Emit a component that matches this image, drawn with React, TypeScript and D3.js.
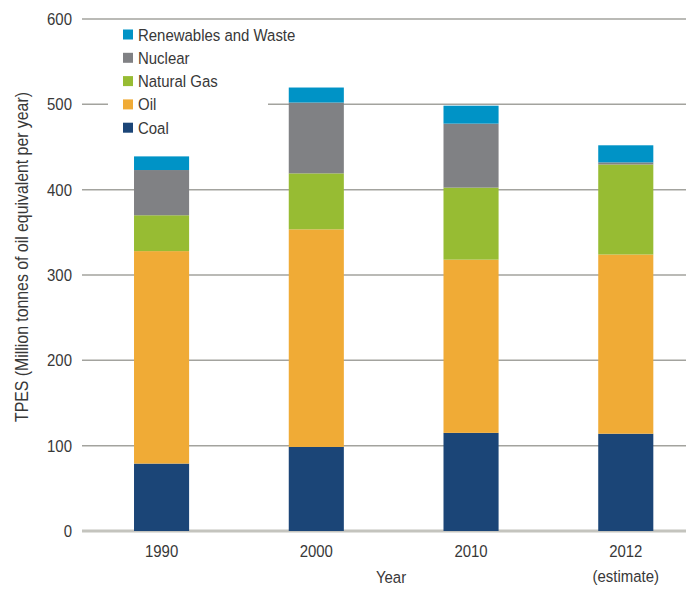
import * as d3 from 'd3';
import React from 'react';

const years = ['1990', '2000', '2010', '2012'];
const yearNotes = ['', '', '', '(estimate)'];
const seriesKeys = ['Coal', 'Oil', 'Natural Gas', 'Nuclear', 'Renewables and Waste'];
const coal = [79, 98.5, 115, 114];
const oil = [249, 255, 203, 210];
const naturalGas = [42, 65.6, 84.4, 105.5];
const nuclear = [53, 83, 75, 2.5];
const renewables = [16, 17.6, 21, 20];
const yTicks = [0, 100, 200, 300, 400, 500, 600];

const colors = ['#1b4577', '#f0ab36', '#97bc33', '#808184', '#0093c6'];
const font = "'Liberation Sans', Arial, sans-serif";

// the source uses a condensed face; squeeze Liberation Sans horizontally
function Label({ x, y, anchor = 'start', size = 17, rotate = 0, children }: any) {
  return (
    <g transform={`translate(${x}, ${y}) rotate(${rotate}) scale(0.88, 1)`}>
      <text textAnchor={anchor} fontSize={size} fill="#383838">
        {children}
      </text>
    </g>
  );
}

export default function App() {
  const width = 692;
  const height = 589;
  const left = 82;
  const right = 686;

  const rows = years.map((year, i) => ({
    year,
    Coal: coal[i],
    Oil: oil[i],
    'Natural Gas': naturalGas[i],
    Nuclear: nuclear[i],
    'Renewables and Waste': renewables[i],
  }));
  const stacked = d3.stack<any>().keys(seriesKeys)(rows);

  const x = d3
    .scaleBand()
    .domain(years)
    .range([85, right])
    .paddingInner(0.644)
    .paddingOuter(0.264)
    .align(0.6);
  const y = d3.scaleLinear().domain([0, 600]).range([531, 19]);
  const color = d3.scaleOrdinal<string>().domain(seriesKeys).range(colors);

  const legendItems = seriesKeys.slice().reverse();
  const mid = (year: string) => (x(year) || 0) + x.bandwidth() / 2;

  return (
    <svg width={width} height={height} style={{ position: 'absolute', left: 0, top: 0 }} fontFamily={font}>
      <rect width={width} height={height} fill="#fff" />
      {yTicks.map((t) => (
        <g key={t}>
          <line
            x1={left}
            x2={right}
            y1={y(t)}
            y2={y(t)}
            stroke={t === 0 ? '#c4c4be' : '#a3a39e'}
            strokeWidth={t === 0 ? 3 : 1.5}
          />
          <Label x={72} y={y(t) + 6} anchor="end">
            {t}
          </Label>
        </g>
      ))}
      {/* legend box hides the gridline behind it */}
      <rect x={108} y={23} width={160} height={116} fill="#fff" />
      {legendItems.map((key, i) => (
        <g key={key} transform={`translate(123, ${34.5 + i * 23.3})`}>
          <rect x={0} y={-5} width={10} height={10} fill={color(key)} />
          <Label x={15} y={6}>
            {key}
          </Label>
        </g>
      ))}
      {stacked.map((series) => (
        <g key={series.key} fill={color(series.key)}>
          {series.map((d, i) => (
            <rect
              key={i}
              x={x(years[i])}
              y={y(d[1])}
              width={x.bandwidth()}
              height={y(d[0]) - y(d[1])}
            />
          ))}
        </g>
      ))}
      {years.map((year, i) => (
        <g key={year}>
          <Label x={mid(year)} y={557} anchor="middle">
            {year}
          </Label>
          {yearNotes[i] && (
            <Label x={mid(year)} y={582} anchor="middle">
              {yearNotes[i]}
            </Label>
          )}
        </g>
      ))}
      <Label x={391} y={583} anchor="middle">
        Year
      </Label>
      <Label x={28} y={257} anchor="middle" size={18} rotate={-90}>
        TPES (Million tonnes of oil equivalent per year)
      </Label>
    </svg>
  );
}
